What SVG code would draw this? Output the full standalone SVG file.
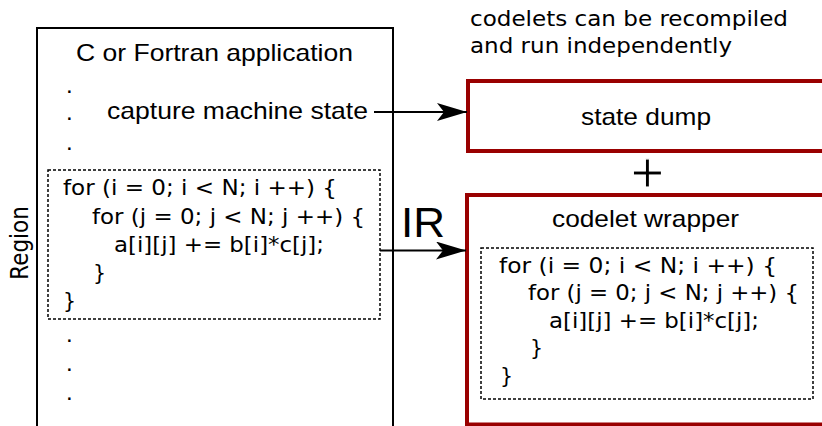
<svg xmlns="http://www.w3.org/2000/svg" width="822" height="426" viewBox="0 0 822 426">
<defs>
<style>
.lbl{font-family:"Liberation Sans",Arial,sans-serif;font-size:24px;fill:#000}
.code{font-family:"DejaVu Sans",sans-serif;font-size:20.5px;fill:#000}
.note{font-family:"DejaVu Sans",sans-serif;font-size:21px;fill:#000}
.red{fill:#fff;stroke:#990000;stroke-width:4}
.dash{fill:none;stroke:#000;stroke-width:1.5;stroke-dasharray:3,2}
.conn{stroke:#000;stroke-width:2;fill:none}
</style>
<marker id="arr" viewBox="0 0 30 18" refX="30" refY="9" markerWidth="30" markerHeight="18" markerUnits="userSpaceOnUse" orient="auto">
<path d="M0,0 L30,9 L0,18 L7,9 Z" fill="#000"/>
</marker>
</defs>
<rect width="822" height="426" fill="#fff"/>

<g id="note">
<text class="note" x="470" y="26" textLength="318" lengthAdjust="spacingAndGlyphs">codelets can be recompiled</text>
<text class="note" x="470" y="53" textLength="262" lengthAdjust="spacingAndGlyphs">and run independently</text>
</g>

<g id="application">
<rect x="37" y="28" width="356" height="420" fill="none" stroke="#000" stroke-width="2"/>
<text class="lbl" x="76" y="61" textLength="277" lengthAdjust="spacingAndGlyphs">C or Fortran application</text>
<text class="lbl" x="66" y="93">.</text>
<text class="lbl" x="66" y="120">.</text>
<text class="lbl" x="66" y="150">.</text>
<text class="lbl" x="107" y="119" textLength="261" lengthAdjust="spacingAndGlyphs">capture machine state</text>
<text class="lbl" x="66" y="342">.</text>
<text class="lbl" x="66" y="371">.</text>
<text class="lbl" x="66" y="400">.</text>
</g>

<g id="region">
<rect class="dash" x="48" y="170" width="332" height="149"/>
<text class="code" x="63" y="195" textLength="274" lengthAdjust="spacingAndGlyphs">for (i = 0; i &lt; N; i ++) {</text>
<text class="code" x="92" y="223.5" textLength="273" lengthAdjust="spacingAndGlyphs">for (j = 0; j &lt; N; j ++) {</text>
<text class="code" x="114" y="252" textLength="210" lengthAdjust="spacingAndGlyphs">a[i][j] += b[i]*c[j];</text>
<text class="code" x="93" y="280">}</text>
<text class="code" x="63" y="308">}</text>
</g>

<g id="region-label">
<text class="note" style="font-size:21.5px" text-anchor="middle" transform="translate(28,243) scale(1.14,1) rotate(-90)">Region</text>
</g>

<g id="state-dump">
<rect class="red" x="468" y="81" width="400" height="70"/>
<text class="lbl" x="581" y="125" textLength="130" lengthAdjust="spacingAndGlyphs">state dump</text>
</g>

<g id="plus">
<text class="lbl" style="font-size:58px;stroke:#fff;stroke-width:1.2" text-anchor="middle" x="647.5" y="192">+</text>
</g>

<g id="codelet-wrapper">
<rect class="red" x="467" y="195" width="400" height="229.5"/>
<text class="lbl" x="552" y="227" textLength="187" lengthAdjust="spacingAndGlyphs">codelet wrapper</text>
<rect class="dash" x="481" y="248" width="332" height="151"/>
<text class="code" x="499" y="272.5" textLength="278" lengthAdjust="spacingAndGlyphs">for (i = 0; i &lt; N; i ++) {</text>
<text class="code" x="528" y="300" textLength="271" lengthAdjust="spacingAndGlyphs">for (j = 0; j &lt; N; j ++) {</text>
<text class="code" x="549" y="327.5" textLength="210" lengthAdjust="spacingAndGlyphs">a[i][j] += b[i]*c[j];</text>
<text class="code" x="530" y="355">}</text>
<text class="code" x="500" y="382.5">}</text>
</g>

<g id="connectors">
<line class="conn" x1="374" y1="112" x2="467" y2="112" marker-end="url(#arr)"/>
<line class="conn" x1="380" y1="250.5" x2="466" y2="250.5" marker-end="url(#arr)"/>
<text class="lbl" style="font-size:42px" x="401" y="237" textLength="44" lengthAdjust="spacingAndGlyphs">IR</text>
</g>
</svg>
